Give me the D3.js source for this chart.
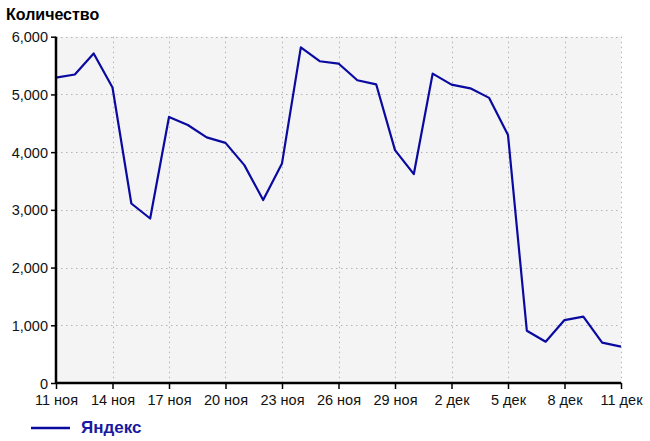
<!DOCTYPE html>
<html><head><meta charset="utf-8">
<script src="https://cdn.jsdelivr.net/npm/d3@7"></script>
<style>
body{margin:0;background:#fff;}
text{font-family:"Liberation Sans",Arial,sans-serif;}
</style></head>
<body><svg id="c" width="650" height="441"></svg>
<script>
const values = [5290,5345,5710,5120,3110,2850,4610,4470,4255,4160,3775,3170,3805,5815,5575,5535,5245,5175,4035,3620,5360,5170,5105,4940,4295,905,715,1090,1150,700,630];
const yTicks = [0,1000,2000,3000,4000,5000,6000];
const xTickLabels = ["11 ноя","14 ноя","17 ноя","20 ноя","23 ноя","26 ноя","29 ноя","2 дек","5 дек","8 дек","11 дек"];
const seriesName = "Яндекс";
const yTitle = "Количество";

const svg = d3.select("#c");
const L=56, R=621, T=36.7, B=383;
const dates = values.map((v,i)=>new Date(2023,10,11+i));
const x = d3.scaleTime().domain([dates[0], dates[dates.length-1]]).range([L,R]);
const y = d3.scaleLinear().domain([0,6000]).range([B,T]);
const xTickDates = xTickLabels.map((s,i)=>new Date(2023,10,11+3*i));

svg.append("rect").attr("x",L).attr("y",T).attr("width",R-L).attr("height",B-T).attr("fill","#f4f4f4");

// grid
const g = svg.append("g");
yTicks.filter(d=>d>0).forEach(d=>{
  g.append("line").attr("x1",L).attr("x2",R).attr("y1",Math.round(y(d))+0.5).attr("y2",Math.round(y(d))+0.5)
   .attr("stroke","#b4b4b4").attr("stroke-dasharray","1.5,3.5");
});
xTickDates.slice(1).forEach(d=>{
  g.append("line").attr("y1",T).attr("y2",B).attr("x1",Math.round(x(d))+0.5).attr("x2",Math.round(x(d))+0.5)
   .attr("stroke","#b4b4b4").attr("stroke-dasharray","1.5,3.5");
});

// line
svg.append("path").datum(values)
  .attr("fill","none").attr("stroke","#0a0aa0").attr("stroke-width",2.2).attr("stroke-linejoin","round")
  .attr("d", d3.line().x((d,i)=>x(dates[i])).y(d=>y(d)));

// axes
const ya = svg.append("g").attr("transform",`translate(${L},0)`)
  .call(d3.axisLeft(y).tickValues(yTicks).tickFormat(d3.format(",")).tickSize(5).tickPadding(3));
const xa = svg.append("g").attr("transform",`translate(0,${B})`)
  .call(d3.axisBottom(x).tickValues(xTickDates).tickFormat((d,i)=>xTickLabels[i]).tickSize(6).tickPadding(6));
[ya,xa].forEach(a=>{
  a.select(".domain").attr("stroke","#000").attr("stroke-width",2.5);
  a.selectAll(".tick line").attr("stroke","#000").attr("stroke-width",1.5);
  a.selectAll("text").attr("font-size",14.5).attr("fill","#111").attr("font-family","Liberation Sans, Arial, sans-serif");
});
ya.selectAll("text").attr("dy","0.35em");
ya.select(".domain").attr("d",`M0,${T}V${B}`);
xa.select(".domain").attr("d",`M${L},0H${R}`);

svg.append("text").attr("x",6).attr("y",20).attr("font-size",16).attr("font-weight","bold").attr("fill","#000").text(yTitle);

// legend
svg.append("line").attr("x1",31).attr("x2",70).attr("y1",428).attr("y2",428).attr("stroke","#0a0aa0").attr("stroke-width",2.5);
svg.append("text").attr("x",81).attr("y",433).attr("font-size",17).attr("font-weight","bold").attr("fill","#1a1aa0").text(seriesName);
</script></body></html>
